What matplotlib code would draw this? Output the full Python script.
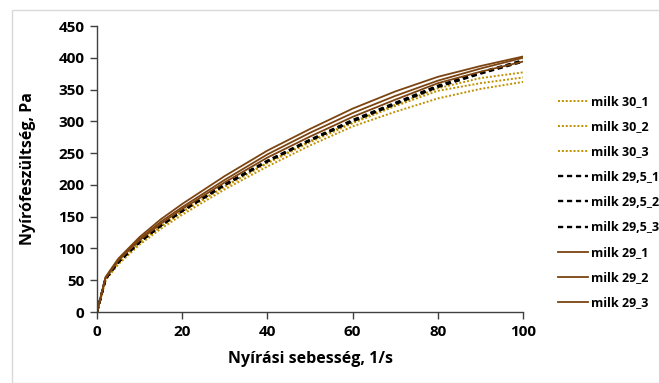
import matplotlib.pyplot as plt
from matplotlib.patches import Rectangle

plt.rcParams['font.family'] = ['Open Sans', 'DejaVu Sans']
plt.rcParams['font.weight'] = 'bold'

# nyírási sebesség (1/s)
shear = [0, 2, 5, 10, 15, 20, 30, 40, 50, 60, 70, 80, 90, 100]

# nyírófeszültség (Pa), leolvasott értékek
milk30_1 = [0, 51, 78, 110, 135, 158, 198, 235, 269, 299, 326, 352, 368, 377]
milk30_2 = [0, 51, 77, 109, 134, 157, 197, 234, 267, 297, 324, 348, 360, 369]
milk30_3 = [0, 50, 75, 106, 131, 153, 193, 229, 262, 292, 315, 336, 351, 362]
milk295_1 = [0, 52, 79, 111, 137, 160, 201, 238, 271, 302, 329, 356, 377, 396]
milk295_2 = [0, 52, 79, 110, 136, 159, 200, 237, 270, 301, 328, 355, 376, 395]
milk295_3 = [0, 52, 78, 110, 136, 159, 200, 237, 270, 300, 327, 354, 375, 394]
milk29_1 = [0, 55, 84, 118, 146, 170, 214, 254, 288, 320, 347, 370, 387, 402]
milk29_2 = [0, 54, 82, 115, 142, 165, 208, 248, 282, 313, 340, 364, 383, 400]
milk29_3 = [0, 53, 81, 113, 139, 162, 204, 243, 276, 307, 334, 360, 378, 394]

labels = ["milk 30_1", "milk 30_2", "milk 30_3",
          "milk 29,5_1", "milk 29,5_2", "milk 29,5_3",
          "milk 29_1", "milk 29_2", "milk 29_3"]
series = [milk30_1, milk30_2, milk30_3, milk295_1, milk295_2, milk295_3,
          milk29_1, milk29_2, milk29_3]

gold = "#BF9000"
brown = "#7B4410"

fig = plt.figure(figsize=(6.59, 3.83), dpi=100)
fig.patches.append(Rectangle((12/659, 0), 1, 1 - 10/383, transform=fig.transFigure,
                             fill=False, edgecolor="#D9D9D9", lw=1))
ax = fig.add_axes([97/659, 1 - 312/383, 426/659, 286/383])

for i, (lab, y) in enumerate(zip(labels, series)):
    if i < 3:
        ax.plot(shear, y, color=gold, lw=1.4, ls=(0, (1, 1)), label=lab)
    elif i < 6:
        ax.plot(shear, y, color="black", lw=1.7, ls=(0, (2.2, 1.6)), label=lab)
    else:
        ax.plot(shear, y, color=brown, lw=1.3, label=lab)

ax.set_xlim(0, 100)
ax.set_ylim(0, 450)
ax.set_xticks(range(0, 101, 20))
ax.set_yticks(range(0, 451, 50))
ax.spines['top'].set_visible(False)
ax.spines['right'].set_visible(False)
for s in ['left', 'bottom']:
    ax.spines[s].set_color("#404040")
    ax.spines[s].set_linewidth(1)
ax.tick_params(direction='out', length=5, width=1, color="#404040",
               labelsize=11, pad=4)

ax.set_xlabel("Nyírási sebesség, 1/s", fontsize=11.5, fontweight='bold', labelpad=9)
ax.set_ylabel("Nyírófeszültség, Pa", fontsize=11.5, fontweight='bold', labelpad=16)

leg = fig.legend(loc='upper left', bbox_to_anchor=(552/659, 1 - 89/383),
                 frameon=False, fontsize=9, handlelength=2.4, handletextpad=0.25,
                 labelspacing=0.97, borderpad=0)

fig.savefig("out.png", dpi=100)
